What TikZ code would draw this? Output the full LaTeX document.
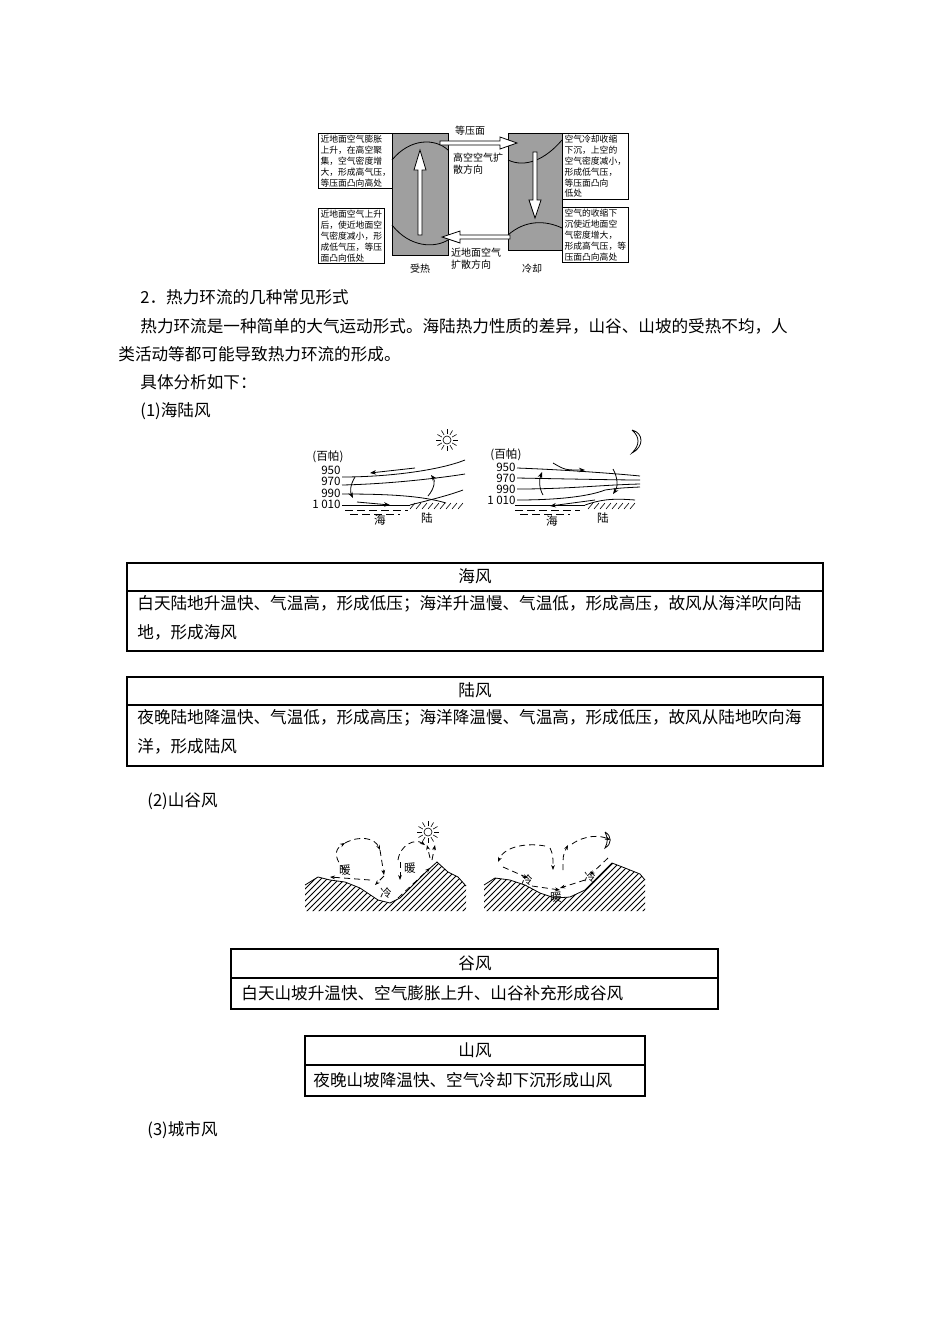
\documentclass[tikz,border=0pt]{standalone}
\usepackage{fontspec}
\setmainfont{Noto Sans CJK SC}
\usetikzlibrary{patterns,arrows.meta,decorations.markings}
\begin{document}
\begin{tikzpicture}[x=0.5pt,y=-0.5pt,
  body/.style={anchor=west,inner sep=0,font=\fontsize{8.3}{10}\selectfont},
  tiny/.style={font=\fontsize{4.4}{5.4}\selectfont,align=left,inner sep=1pt},
  small/.style={font=\fontsize{5}{6}\selectfont,inner sep=0},
  num/.style={font=\fontsize{5.8}{6}\selectfont,inner sep=0},
  tb/.style={draw,line width=0.5pt},
  hollow/.style={draw,fill=white,line width=0.4pt},
  iso/.style={line width=0.4pt},
  wind/.style={line width=0.4pt,-{Stealth[length=3pt]}},
  dwind/.style={line width=0.4pt,densely dashed,-{Stealth[length=2.5pt]}}]
\useasboundingbox[fill=white] (0,0) rectangle (950,1344);
% ---------- top diagram ----------
\fill[gray!75] (392,133) rectangle (448,255);
\fill[gray!75] (508,133) rectangle (562,250);
\draw[line width=0.4pt] (392,133) rectangle (448,255) (508,133) rectangle (562,250);
\draw[iso] (392,160) .. controls (410,138) and (435,138) .. (448,150);
\draw[iso] (508,160) .. controls (525,168) and (545,160) .. (562,140);
\draw[iso] (392,225) .. controls (410,248) and (435,248) .. (448,240);
\draw[iso] (508,235) .. controls (525,220) and (545,220) .. (562,228);
\node[tb,tiny,anchor=north west] (tl) at (318,133) {近地面空气膨胀\\上升，在高空聚\\集，空气密度增\\大，形成高气压，\\等压面凸向高处};
\node[tb,tiny,anchor=north west] (bl) at (318,208) {近地面空气上升\\后，使近地面空\\气密度减小，形\\成低气压，等压\\面凸向低处};
\node[tb,tiny,anchor=north west] (tr) at (562,133) {空气冷却收缩\\下沉，上空的\\空气密度减小，\\形成低气压，\\等压面凸向\\低处};
\node[tb,tiny,anchor=north west] (br) at (562,207) {空气的收缩下\\沉使近地面空\\气密度增大，\\形成高气压，等\\压面凸向高处};
\draw[hollow] (418,235)--(418,170)--(414,170)--(420,150)--(426,170)--(422,170)--(422,235)--cycle;
\draw[hollow] (533,152)--(533,200)--(529,200)--(535,218)--(541,200)--(537,200)--(537,152)--cycle;
\draw[hollow] (440,141)--(500,141)--(500,137)--(517,143)--(500,149)--(500,145)--(440,145)--cycle;
\draw[hollow] (510,235)--(460,235)--(460,231)--(442,237)--(460,243)--(460,239)--(510,239)--cycle;
\node[small] (dy) at (470,131) {等压面};
\node[small,align=left] (gk) at (478,164) {高空空气扩\\散方向};
\node[small,align=left] (jd) at (476,259) {近地面空气\\扩散方向};
\node[small] (sr) at (420,269) {受热};
\node[small] (lq) at (532,269) {冷却};
% ---------- body text ----------
\node[body] (h2) at (140,297) {2．热力环流的几种常见形式};
\node[body] (p1) at (140,326) {热力环流是一种简单的大气运动形式。海陆热力性质的差异，山谷、山坡的受热不均，人};
\node[body] (p2) at (118,354) {类活动等都可能导致热力环流的形成。};
\node[body] (p3) at (140,382) {具体分析如下：};
\node[body] (p4) at (140,411) {(1)海陆风};
% ---------- sea-land day ----------
\node[num,anchor=west] (u1) at (312,457) {(百帕)};
\node[num,anchor=east] (a1) at (341,470) {950};
\node[num,anchor=east] (b1) at (341,481) {970};
\node[num,anchor=east] (c1) at (341,493) {990};
\node[num,anchor=east] (d1) at (341,504) {1 010};
\draw[iso] (342,477) .. controls (390,477) and (440,470) .. (465,460);
\draw[iso] (342,485) .. controls (390,484) and (440,478) .. (465,474);
\draw[iso] (342,494) .. controls (380,494) and (420,495) .. (446,503);
\draw[iso] (342,505) -- (410,505);
\draw[iso] (410,505) .. controls (430,500) and (450,495) .. (463,490);
\foreach \x in {410,416,...,458} \draw[line width=0.3pt] (\x,509) -- ++(5,-6);
\draw[line width=0.3pt,dash pattern=on 4pt off 2pt] (345,510) -- (408,510) (350,514) -- (400,514);
\draw[wind] (415,468) -- (370,473);
\draw[wind] (357,502) -- (390,505);
\draw[wind] (355,477) .. controls (350,485) and (350,492) .. (353,498);
\draw[wind] (428,496) .. controls (435,488) and (435,480) .. (431,475);
\node[num] (hai1) at (380,520) {海};
\node[num] (lu1) at (427,518) {陆};
\draw[line width=0.3pt] (447,440) circle (4);
\foreach \a in {0,30,...,330} \draw[line width=0.3pt] (447,440)++(\a:6) -- ++(\a:5);
% ---------- sea-land night ----------
\node[num,anchor=west] (u2) at (490,455) {(百帕)};
\node[num,anchor=east] (a2) at (516,467) {950};
\node[num,anchor=east] (b2) at (516,478) {970};
\node[num,anchor=east] (c2) at (516,489) {990};
\node[num,anchor=east] (d2) at (516,500) {1 010};
\draw[iso] (517,468) .. controls (570,470) and (620,474) .. (640,476);
\draw[iso] (517,478) .. controls (570,479) and (620,480) .. (640,480);
\draw[iso] (517,489) .. controls (570,489) and (600,485) .. (640,484);
\draw[iso] (517,500) .. controls (560,500) and (590,496) .. (605,490) .. controls (620,488) .. (640,487);
\draw[iso] (515,505) -- (585,505);
\draw[iso] (585,505) .. controls (600,500) and (610,498) .. (635,500);
\foreach \x in {588,594,...,630} \draw[line width=0.3pt] (\x,509) -- ++(5,-6);
\draw[line width=0.3pt,dash pattern=on 4pt off 2pt] (515,510) -- (580,510) (520,514) -- (570,514);
\draw[wind] (553,463) .. controls (565,470) .. (585,470);
\draw[wind] (595,500) -- (550,506);
\draw[wind] (543,495) .. controls (539,488) and (539,480) .. (542,472);
\draw[wind] (613,469) .. controls (618,478) and (618,487) .. (613,494);
\node[num] (hai2) at (552,521) {海};
\node[num] (lu2) at (603,518) {陆};
\draw[line width=0.4pt] (632,430) .. controls (644,433) and (644,447) .. (632,453) .. controls (640,445) and (640,437) .. (632,430);
% ---------- tables ----------
\draw[line width=0.6pt] (127,563) rectangle (823,651) (127,591) -- (823,591);
\node[body,anchor=center] (t1) at (475,576) {海风};
\node[body] (r1) at (137,604) {白天陆地升温快、气温高，形成低压；海洋升温慢、气温低，形成高压，故风从海洋吹向陆};
\node[body] (r1b) at (137,632) {地，形成海风};
\draw[line width=0.6pt] (127,677) rectangle (823,766) (127,705) -- (823,705);
\node[body,anchor=center] (t2) at (475,690) {陆风};
\node[body] (r2) at (137,718) {夜晚陆地降温快、气温低，形成高压；海洋降温慢、气温高，形成低压，故风从陆地吹向海};
\node[body] (r2b) at (137,746) {洋，形成陆风};
\node[body] (p5) at (147,801) {(2)山谷风};
% ---------- valley day ----------
\fill[pattern=north east lines] (305,911) -- (305,885) -- (318,877) -- (330,880) -- (345,882) -- (360,888) -- (378,900) -- (390,903) -- (400,898) -- (412,886) -- (428,870) -- (437,862) -- (448,872) -- (458,877) -- (466,886) -- (466,911) -- cycle;
\draw[line width=0.4pt] (305,885) -- (318,877) -- (330,880) -- (345,882) -- (360,888) -- (378,900) -- (390,903) -- (400,898) -- (412,886) -- (428,870) -- (437,862) -- (448,872) -- (458,877) -- (466,886);
\draw[dwind] (345,870) .. controls (335,860) and (333,850) .. (345,843);
\draw[dwind] (345,843) .. controls (360,835) and (375,838) .. (380,850);
\draw[dwind] (380,850) -- (384,875);
\draw[dwind] (384,876) -- (375,885);
\draw[dwind] (370,880) -- (330,877);
\draw[dwind] (398,860) .. controls (400,845) and (415,838) .. (425,845);
\draw[dwind] (430,858) -- (427,845);
\draw[dwind] (400,862) -- (400,880);
\draw[dwind] (398,898) -- (430,868);
\draw[dwind] (432,860) -- (435,845);
\node[num] (n1) at (345,870) {暖};
\node[num] (n2) at (410,868) {暖};
\node[num] (c3) at (386,893) {冷};
\draw[line width=0.3pt] (428,832) circle (4);
\foreach \a in {0,30,...,330} \draw[line width=0.3pt] (428,832)++(\a:6) -- ++(\a:5);
% ---------- valley night ----------
\fill[pattern=north east lines] (484,911) -- (484,885) -- (495,878) -- (510,880) -- (525,885) -- (540,893) -- (555,898) -- (570,897) -- (585,890) -- (600,875) -- (612,863) -- (625,868) -- (640,874) -- (645,880) -- (645,911) -- cycle;
\draw[line width=0.4pt] (484,885) -- (495,878) -- (510,880) -- (525,885) -- (540,893) -- (555,898) -- (570,897) -- (585,890) -- (600,875) -- (612,863) -- (625,868) -- (640,874) -- (645,880);
\draw[dwind] (545,846) .. controls (530,843) and (505,845) .. (498,862);
\draw[dwind] (503,867) -- (528,878);
\draw[dwind] (532,886) -- (560,890);
\draw[dwind] (550,848) .. controls (553,855) .. (553,870);
\draw[dwind] (563,870) .. controls (563,855) .. (568,845);
\draw[dwind] (572,844) .. controls (585,835) and (600,835) .. (610,840);
\draw[dwind] (608,858) -- (590,875);
\draw[dwind] (585,880) -- (560,888);
\node[num] (c4) at (527,880) {冷};
\node[num] (n3) at (556,897) {暖};
\node[num] (c5) at (590,877) {冷};
\draw[line width=0.4pt] (605,832) .. controls (612,836) and (612,844) .. (605,848) .. controls (608,842) and (608,838) .. (605,832);
% ---------- small tables ----------
\draw[line width=0.6pt] (231,949) rectangle (718,1009) (231,978) -- (718,978);
\node[body,anchor=center] (t3) at (475,963) {谷风};
\node[body] (r3) at (241,993) {白天山坡升温快、空气膨胀上升、山谷补充形成谷风};
\draw[line width=0.6pt] (305,1036) rectangle (645,1096) (305,1065) -- (645,1065);
\node[body,anchor=center] (t4) at (475,1050) {山风};
\node[body] (r4) at (313,1080) {夜晚山坡降温快、空气冷却下沉形成山风};
\node[body] (p6) at (147,1130) {(3)城市风};
\end{tikzpicture}
\end{document}
